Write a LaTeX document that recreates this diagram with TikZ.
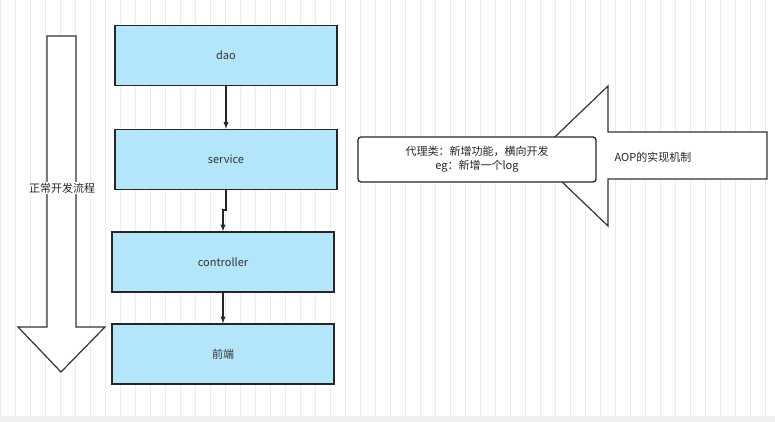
\documentclass[tikz,border=0pt]{standalone}
\usepackage{fontspec}
\setmainfont{Noto Sans CJK SC}
\begin{document}
\begin{tikzpicture}[x=1pt,y=-1pt,
  box/.style={draw=black!85,line width=1.3pt,fill=cyan!30!white,minimum width=222pt,minimum height=60pt,font=\fontsize{11}{13}\selectfont,text=black!80},
  conn/.style={draw=black!85,line width=1.3pt,-{latex}},
  bigarrow/.style={draw=black!80,line width=1.2pt,fill=white}]
\useasboundingbox (0,0) rectangle (775,422);
\fill[white] (0,0) rectangle (775,416);
\fill[black!6] (0,416) rectangle (775,422);
\draw[black!8,line width=0.6pt] (0,0) grid[step=15] (775,416);
\path[bigarrow] (47,36) -- (76,36) -- (76,327) -- (105,327) -- (61,372) -- (18,327) -- (47,327) -- cycle;
\node[font=\fontsize{11}{13}\selectfont,text=black!85,fill=white,inner sep=1pt] (flow) at (62,188) {正常开发流程};
\path[bigarrow] (767,132) -- (608,132) -- (608,86) -- (535,156) -- (608,226) -- (608,179) -- (767,179) -- cycle;
\node[font=\fontsize{11}{13}\selectfont,text=black!85] (aop) at (653,157) {AOP的实现机制};
\node[draw=black!85,line width=1.3pt,fill=white,rounded corners=3pt,minimum width=238pt,minimum height=45pt,align=center,font=\fontsize{11}{14}\selectfont,text=black!85] (proxy) at (477,159.5) {代理类：新增功能，横向开发\\eg：新增一个log};
\node[box] (dao) at (226,55.5) {dao};
\node[box] (service) at (226,159.5) {service};
\node[box] (ctrl) at (223,262) {controller};
\node[box] (front) at (223,354) {前端};
\draw[conn] (dao) -- (service);
\coordinate (j1) at (226,210);
\coordinate (j2) at (223,210);
\draw[conn] (service.south) -- (j1) -- (j2) -- (ctrl.north);
\draw[conn] (ctrl) -- (front);
\end{tikzpicture}
\end{document}
